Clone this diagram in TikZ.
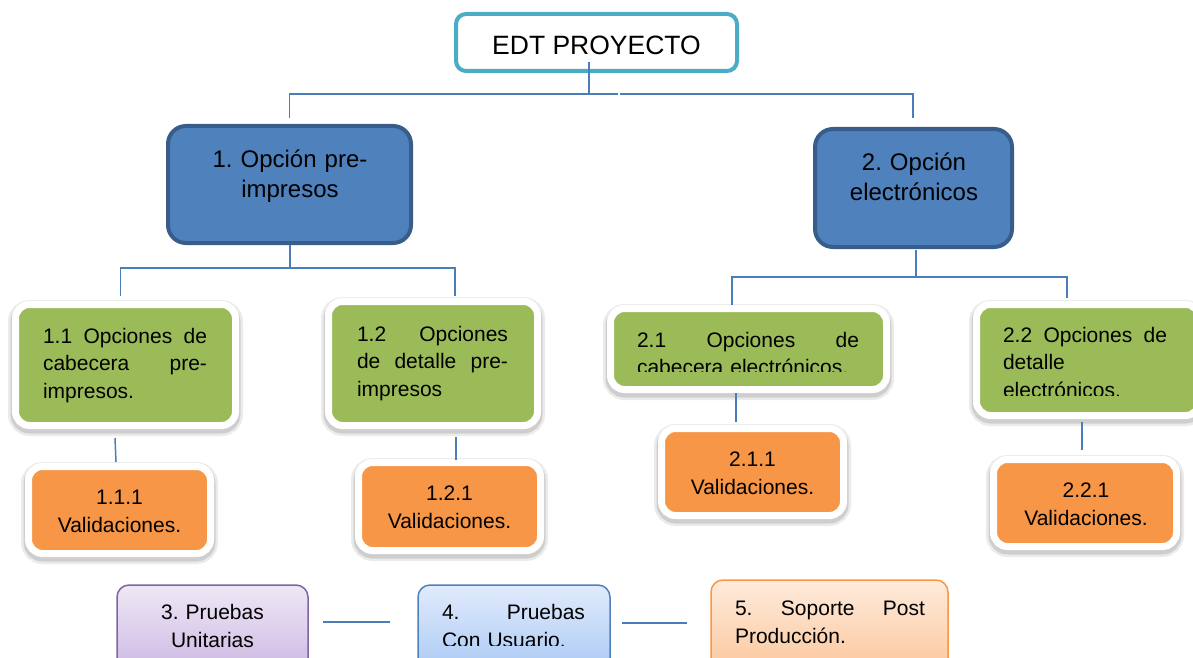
\documentclass[tikz,border=0pt]{standalone}
\usepackage{fontspec}
\setmainfont{Liberation Sans}
\frenchspacing
\definecolor{teal1}{HTML}{4BACC6}
\definecolor{bfill}{HTML}{4F81BD}
\definecolor{bdraw}{HTML}{385D8A}
\definecolor{grn}{HTML}{9BBB59}
\definecolor{org}{HTML}{F79646}
\definecolor{lnk}{HTML}{4A7EBB}
\definecolor{pur}{HTML}{8064A2}
\definecolor{purtop}{HTML}{EEE8F5}
\definecolor{purbot}{HTML}{C6AEE0}
\definecolor{blutop}{HTML}{E1EBFC}
\definecolor{blubot}{HTML}{9FC2F3}
\definecolor{orgtop}{HTML}{FEEBDC}
\definecolor{orgbot}{HTML}{FBC08F}
\begin{document}
\begin{tikzpicture}[x=1pt,y=-1pt,
  conn/.style={draw=lnk, line width=1.5pt},
  rootbox/.style={draw=teal1, line width=4pt, fill=white, rounded corners=10pt, outer sep=0pt, inner sep=0pt},
  lvlone/.style={draw=bdraw, fill=bfill, line width=4pt, rounded corners=18pt, outer sep=0pt, inner sep=0pt},
  rim/.style={draw=white, line width=7pt, rounded corners=14pt, outer sep=0pt, inner sep=0pt,
    preaction={draw=black, draw opacity=0.08, line width=15pt, transform canvas={yshift=-3pt}},
    preaction={draw=black, draw opacity=0.12, line width=10pt, transform canvas={yshift=-3pt}}},
  gbox/.style={rim, fill=grn},
  obox/.style={rim, fill=org},
  botbox/.style={line width=1.5pt, rounded corners=12pt, outer sep=0pt, inner sep=0pt},
  txt/.style={inner sep=0pt, outer sep=0pt, text=black},
  fbig/.style={font=\fontsize{26.5}{30}\selectfont},
  fmid/.style={font=\fontsize{24}{30}\selectfont},
  fsm/.style={font=\fontsize{21}{27.5}\selectfont},
  fsmc/.style={font=\fontsize{21}{28}\selectfont}
]
\useasboundingbox (0,0) rectangle (1193,658);
\clip (0,0) rectangle (1193,658);

% ---- boxes ----
\node[rootbox, minimum width=281pt, minimum height=57pt] (root) at (596.5,42.5) {};
\node[lvlone, minimum width=243pt, minimum height=117pt] (n1) at (289.5,184.5) {};
\node[lvlone, minimum width=197pt, minimum height=118pt] (n2) at (913.5,188) {};

\node[gbox, minimum width=220pt, minimum height=121pt] (n11) at (125.5,365) {};
\node[gbox, minimum width=209pt, minimum height=124pt] (n12) at (433,363.5) {};
\node[gbox, minimum width=276pt, minimum height=81pt] (n21) at (748.5,349) {};
\node[gbox, minimum width=223pt, minimum height=111pt] (n22) at (1088,360) {};

\node[obox, minimum width=182pt, minimum height=87pt] (n111) at (119.5,510) {};
\node[obox, minimum width=182pt, minimum height=88pt] (n121) at (449.5,506.5) {};
\node[obox, minimum width=182pt, minimum height=87pt] (n211) at (752.5,472) {};
\node[obox, minimum width=183pt, minimum height=87pt] (n221) at (1085,503) {};

\node[botbox, draw=pur, top color=purtop, bottom color=purbot, minimum width=191pt, minimum height=105pt] (n3) at (212.5,637.5) {};
\node[botbox, draw=bfill, top color=blutop, bottom color=blubot, minimum width=192pt, minimum height=105pt] (n4) at (514,637.5) {};
\node[botbox, draw=org, top color=orgtop, bottom color=orgbot, minimum width=237pt, minimum height=110pt] (n5) at (829.5,635) {};

% ---- texts ----
\node[txt, fbig, anchor=base] (t0) at (596.5,55) {EDT PROYECTO};
\node[txt, fmid, text width=240pt, align=center, anchor=base] (t1) at (290,167) {1. Opción pre-\\impresos};
\node[txt, fmid, text width=190pt, align=center, anchor=base] (t2) at (914,170) {2. Opción\\electrónicos};

\node[txt, fsm, text width=164pt, align=left, anchor=base west] (t11) at (43,343)
  {1.1\hfill Opciones\hfill de\\cabecera\hfill pre-\\impresos.};
\node[txt, fsm, text width=151pt, align=left, anchor=base west] (t12) at (357,341)
  {1.2\hfill Opciones\\de\hfill detalle\hfill pre-\\impresos};
\begin{scope}
  \clip (600,300) rectangle (900,371);
  \node[txt, fsm, text width=222pt, align=left, anchor=base west] (t21) at (637,347)
    {2.1\hfill Opciones\hfill de\\cabecera electrónicos.};
\end{scope}
\begin{scope}
  \clip (970,300) rectangle (1193,395);
  \node[txt, fsm, text width=164pt, align=left, anchor=base west] (t22) at (1003,342)
    {2.2\hfill Opciones\hfill de\\detalle\\electrónicos.};
\end{scope}

\node[txt, fsmc, text width=170pt, align=center, anchor=base] (t111) at (119.5,504) {1.1.1\\Validaciones.};
\node[txt, fsmc, text width=170pt, align=center, anchor=base] (t121) at (449.5,500) {1.2.1\\Validaciones.};
\node[txt, fsmc, text width=170pt, align=center, anchor=base] (t211) at (752.5,466) {2.1.1\\Validaciones.};
\node[txt, fsmc, text width=170pt, align=center, anchor=base] (t221) at (1086,497) {2.2.1\\Validaciones.};

\node[txt, fsmc, text width=180pt, align=center, anchor=base] (t3) at (212.5,619) {3. Pruebas\\Unitarias};
\begin{scope}
  \clip (420,590) rectangle (610,645);
  \node[txt, fsmc, text width=143pt, align=left, anchor=base west] (t4) at (442,619)
    {4.\hfill Pruebas\\Con Usuario.};
\end{scope}
\node[txt, fsmc, text width=190pt, align=left, anchor=base west] (t5) at (735,615)
  {5.\hfill Soporte\hfill Post\\Producción.};

% ---- connectors ----
\coordinate (jt) at (589,94);
\coordinate (jta) at (618,94);
\coordinate (jtb) at (620,94);
\coordinate (j1) at (290,268);
\coordinate (j2) at (916,277);
\draw[conn] (root.center) ++(-7.5,19.5) -- (jt);
\draw[conn] ([yshift=8pt]n1.north) |- (jta);
\draw[conn] ([xshift=-0.5pt,yshift=11pt]n2.north) |- (jtb);

\draw[conn] ([xshift=0.5pt,yshift=-2pt]n1.south) -- (j1);
\draw[conn] ([xshift=-5pt,yshift=8.5pt]n11.north) |- (j1);
\draw[conn] ([xshift=22pt,yshift=5.5pt]n12.north) |- (j1);

\draw[conn] ([xshift=2.5pt,yshift=-3pt]n2.south) -- (j2);
\draw[conn] ([xshift=-16.5pt,yshift=3.5pt]n21.north) |- (j2);
\draw[conn] ([xshift=-21pt,yshift=6.5pt]n22.north) |- (j2);

\draw[conn] ([xshift=-10.5pt,yshift=-12.5pt]n11.south) -- ([xshift=-3.5pt,yshift=4.5pt]n111.north);
\draw[conn] ([xshift=23pt,yshift=-11.5pt]n12.south) -- ([xshift=6.5pt,yshift=2.5pt]n121.north);
\draw[conn] ([xshift=-12.5pt,yshift=-3.5pt]n21.south) -- ([xshift=-16.5pt,yshift=6.5pt]n211.north);
\draw[conn] ([xshift=-6pt,yshift=-6.5pt]n22.south) -- ([xshift=-3pt,yshift=9.5pt]n221.north);

\draw[conn] ([xshift=15pt,yshift=15.5pt]n3.east) -- ([xshift=-28pt,yshift=15.5pt]n4.west);
\draw[conn] ([xshift=12pt,yshift=14.5pt]n4.east) -- ([xshift=-24pt,yshift=12pt]n5.west);
\end{tikzpicture}
\end{document}
